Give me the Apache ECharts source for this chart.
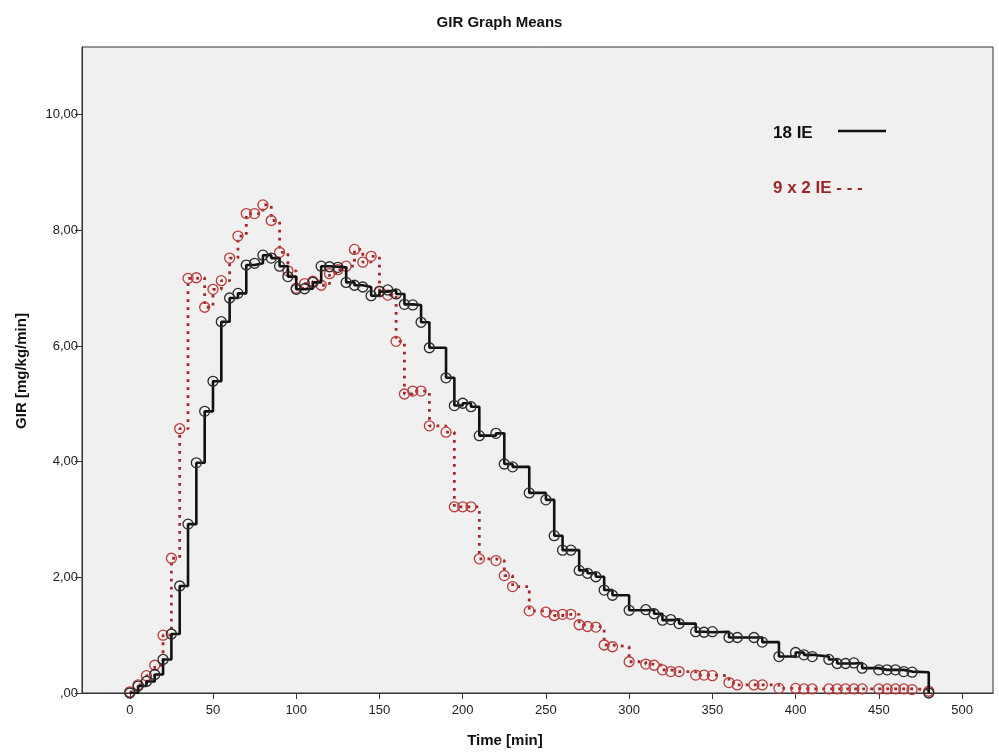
<!DOCTYPE html>
<html>
<head>
<meta charset="utf-8">
<script src="https://cdn.jsdelivr.net/npm/echarts@6/dist/echarts.min.js"></script>
<style>
html,body{margin:0;padding:0;background:#fff;}
#chart{width:999px;height:753px;}
</style>
</head>
<body>
<div id="chart"></div>
<script>
// Time points (min)
var timePoints = [0,5,10,15,20,25,30,35,40,45,50,55,60,65,70,75,80,85,90,95,100,105,110,115,120,125,130,135,140,145,150,155,160,165,170,175,180,190,195,200,205,210,220,225,230,240,250,255,260,265,270,275,280,285,290,300,310,315,320,325,330,340,345,350,360,365,375,380,390,400,405,410,420,425,430,435,440,450,455,460,465,470,480];

// Mean GIR, 18 IE (mg/kg/min)
var gir18IE = [0.00,0.12,0.20,0.32,0.58,1.02,1.85,2.92,3.98,4.87,5.39,6.42,6.83,6.91,7.40,7.43,7.57,7.52,7.38,7.20,6.98,6.99,7.10,7.38,7.37,7.36,7.10,7.05,7.02,6.87,6.94,6.97,6.90,6.72,6.71,6.41,5.97,5.45,4.97,5.01,4.95,4.45,4.49,3.96,3.91,3.46,3.34,2.72,2.47,2.47,2.12,2.07,2.01,1.78,1.69,1.43,1.44,1.37,1.26,1.27,1.20,1.06,1.05,1.06,0.96,0.96,0.96,0.88,0.63,0.70,0.66,0.63,0.58,0.51,0.51,0.52,0.43,0.40,0.40,0.40,0.37,0.36,0.00];

// Mean GIR, 9 x 2 IE (mg/kg/min)
var gir9x2IE = [0.02,0.14,0.30,0.48,1.00,2.33,4.57,7.17,7.18,6.67,6.98,7.13,7.52,7.90,8.29,8.29,8.44,8.17,7.62,7.30,7.00,7.08,7.12,7.05,7.25,7.32,7.38,7.67,7.45,7.55,6.95,6.88,6.08,5.17,5.22,5.22,4.62,4.51,3.22,3.22,3.22,2.32,2.29,2.03,1.84,1.42,1.40,1.34,1.36,1.36,1.18,1.15,1.14,0.83,0.80,0.54,0.50,0.48,0.40,0.37,0.37,0.31,0.31,0.30,0.18,0.14,0.14,0.14,0.08,0.08,0.07,0.07,0.07,0.07,0.07,0.07,0.07,0.07,0.07,0.07,0.07,0.06,0.03];

var xTicks = [0,50,100,150,200,250,300,350,400,450,500];
var yTicks = [0,2,4,6,8,10];

var seriesNames = ['18 IE', '9 x 2 IE'];
var chartTitle = 'GIR Graph Means';
var xAxisTitle = 'Time [min]';
var yAxisTitle = 'GIR [mg/kg/min]';

function pairs(ts, vs) { return ts.map(function (t, i) { return [t, vs[i]]; }); }
function fmtComma(v) {
  if (v === 0) return ',00';
  return v.toFixed(2).replace('.', ',');
}

var FONT = "'Liberation Sans', Arial, sans-serif";
var chart = echarts.init(document.getElementById('chart'), null, {renderer: 'canvas'});
chart.setOption({
  animation: false,
  backgroundColor: '#ffffff',
  title: {
    text: chartTitle,
    left: 'center',
    top: 10,
    textStyle: {fontFamily: FONT, fontSize: 15, fontWeight: 'bold', color: '#111'}
  },
  grid: {
    left: 82, right: 6, top: 47, bottom: 60,
    show: true, backgroundColor: '#f0f0f0', borderColor: '#333', borderWidth: 1
  },
  xAxis: {
    type: 'value',
    min: -28.7, max: 518.6,
    axisLine: {show: true, onZero: false, lineStyle: {color: '#333', width: 1}},
    axisTick: {show: true, customValues: xTicks, length: 6, lineStyle: {color: '#333'}},
    axisLabel: {customValues: xTicks, margin: 11, fontFamily: FONT, fontSize: 13, color: '#222',
      formatter: function (v) { return String(v); }},
    splitLine: {show: false}
  },
  yAxis: {
    type: 'value',
    min: 0, max: 11.17,
    axisLine: {show: true, onZero: false, lineStyle: {color: '#333', width: 1}},
    axisTick: {show: true, customValues: yTicks, length: 7, lineStyle: {color: '#333'}},
    axisLabel: {customValues: yTicks, margin: 4, fontFamily: FONT, fontSize: 13, color: '#222',
      formatter: fmtComma},
    splitLine: {show: false}
  },
  graphic: [
    {type: 'text', x: 505, y: 741, style: {text: xAxisTitle, font: 'bold 15px ' + FONT, fill: '#111', align: 'center', verticalAlign: 'middle'}},
    {type: 'text', x: 22, y: 371, rotation: Math.PI / 2, style: {text: yAxisTitle, font: 'bold 15px ' + FONT, fill: '#111', align: 'center', verticalAlign: 'middle'}},
    {type: 'text', x: 773, y: 133, style: {text: seriesNames[0], font: 'bold 17px ' + FONT, fill: '#111', align: 'left', verticalAlign: 'middle'}},
    {type: 'line', shape: {x1: 838, y1: 131, x2: 886, y2: 131}, style: {stroke: '#111', lineWidth: 2.5}},
    {type: 'text', x: 773, y: 188, style: {text: seriesNames[1] + ' - - -', font: 'bold 17px ' + FONT, fill: '#9e2629', align: 'left', verticalAlign: 'middle'}}
  ],
  series: [
    {
      name: seriesNames[1],
      type: 'line',
      step: 'end',
      data: pairs(timePoints, gir9x2IE),
      symbol: 'circle',
      symbolSize: 10,
      itemStyle: {color: 'transparent', borderColor: '#bb3b3b', borderWidth: 1.3},
      lineStyle: {color: '#a3282b', width: 2.8, type: [2.8, 5.2], cap: 'butt'},
      emphasis: {disabled: true},
      z: 2
    },
    {
      name: seriesNames[0],
      type: 'line',
      step: 'end',
      data: pairs(timePoints, gir18IE),
      symbol: 'circle',
      symbolSize: 10,
      itemStyle: {color: 'transparent', borderColor: '#2a2a2a', borderWidth: 1.3},
      lineStyle: {color: '#111', width: 2.6},
      emphasis: {disabled: true},
      z: 3
    }
  ]
});
</script>
</body>
</html>
